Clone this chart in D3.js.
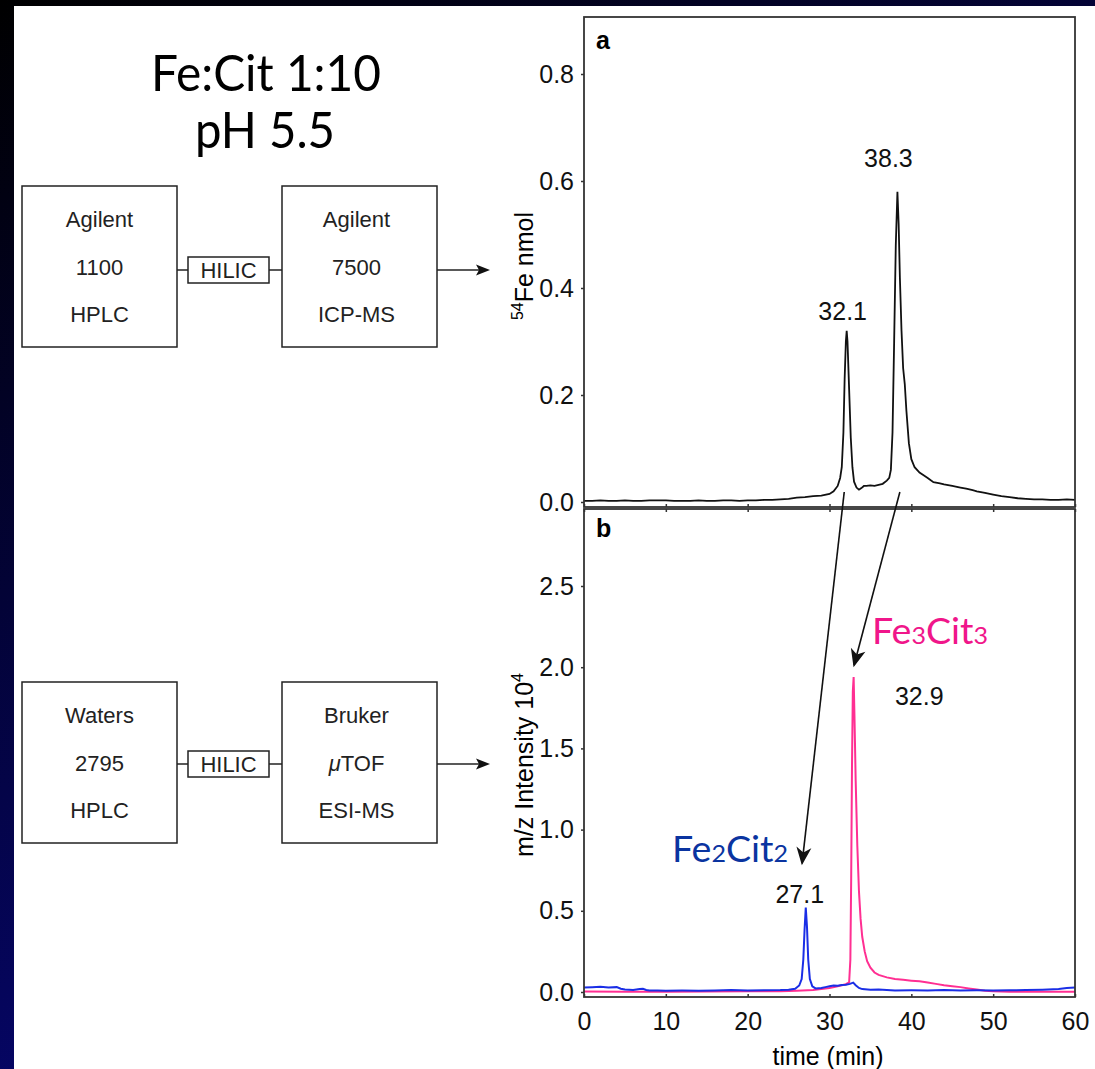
<!DOCTYPE html>
<html>
<head>
<meta charset="utf-8">
<script src="https://cdn.jsdelivr.net/npm/d3@7"></script>
<style>
body { margin: 0; background: #fff; }
</style>
</head>
<body>
<script>
// Values
var timeTicks = [0, 10, 20, 30, 40, 50, 60]
var feTicks = [0, 0.2, 0.4, 0.6, 0.8]
var msTicks = [0, 0.5, 1.0, 1.5, 2.0, 2.5]

// panel a, 54Fe from the ICP-MS, [time, nmol]
var feTrace = [[0,0.002],[1,0.002],[2,0.003],[3,0.002],[4,0.002],[5,0.003],[6,0.002],[7,0.002],[8,0.003],
	[9,0.003],[10,0.003],[11,0.002],[12,0.002],[13,0.002],[14,0.003],[15,0.002],[16,0.002],[17,0.003],
	[18,0.003],[19,0.002],[20,0.003],[21,0.003],[22,0.004],[23,0.004],[24,0.005],[25,0.006],[26,0.008],
	[27,0.009],[28,0.011],[29,0.012],[30,0.015],[30.5,0.02],[31,0.03],[31.3,0.045],[31.5,0.065],[31.7,0.13],
	[31.85,0.23],[32.0,0.3],[32.1,0.32],[32.2,0.3],[32.4,0.21],[32.6,0.12],[32.8,0.065],[33.0,0.038],
	[33.3,0.027],[33.6,0.023],[33.9,0.026],[34.2,0.03],[34.5,0.03],[35,0.031],[35.5,0.03],[36,0.032],
	[36.5,0.034],[37,0.04],[37.3,0.045],[37.5,0.06],[37.7,0.13],[37.9,0.3],[38.1,0.48],[38.3,0.58],
	[38.45,0.52],[38.6,0.42],[38.8,0.32],[39.0,0.25],[39.2,0.22],[39.4,0.17],[39.7,0.11],[40,0.08],
	[40.4,0.065],[41,0.055],[41.5,0.05],[42,0.045],[42.7,0.037],[43.5,0.035],[44,0.033],[45,0.03],
	[46,0.027],[46.7,0.025],[47.5,0.022],[48,0.02],[49,0.017],[50,0.014],[51,0.011],[52,0.009],[53,0.007],
	[54,0.006],[55,0.005],[56,0.005],[57,0.004],[58,0.004],[59,0.005],[60,0.004]]

// panel b, ESI-MS m/z intensity (x10^4), [time, intensity]
var fe2Trace = [[0,0.028],[1,0.03],[2,0.033],[3,0.027],[4,0.03],[4.5,0.02],[5,0.015],[6,0.012],[6.8,0.018],
	[7.2,0.02],[7.6,0.012],[8,0.01],[9,0.009],[10,0.008],[12,0.009],[14,0.008],[16,0.009],[18,0.012],
	[20,0.01],[22,0.011],[24,0.012],[25,0.014],[25.8,0.02],[26.3,0.04],[26.6,0.08],[26.8,0.2],[26.95,0.38],
	[27.1,0.52],[27.25,0.4],[27.4,0.2],[27.6,0.08],[27.9,0.035],[28.3,0.022],[29,0.025],[29.5,0.03],
	[30,0.035],[30.5,0.04],[31,0.038],[31.5,0.043],[32,0.045],[32.5,0.05],[32.9,0.058],[33.2,0.042],
	[33.6,0.025],[34,0.018],[35,0.014],[36,0.015],[38,0.01],[40,0.011],[42,0.01],[44,0.012],[46,0.01],
	[48,0.011],[50,0.01],[52,0.011],[54,0.012],[56,0.014],[58,0.018],[59,0.024],[60,0.028]]

var fe3Trace = [[0,0.003],[5,0.002],[10,0.002],[15,0.003],[20,0.004],[24,0.005],[26,0.008],[28,0.012],
	[29,0.018],[30,0.025],[31,0.035],[32,0.048],[32.4,0.06],[32.55,0.2],[32.65,0.7],[32.75,1.4],[32.85,1.85],
	[32.95,1.94],[33.05,1.7],[33.2,1.3],[33.4,0.9],[33.6,0.62],[33.8,0.45],[34.0,0.34],[34.3,0.25],
	[34.6,0.19],[35,0.15],[35.5,0.12],[36,0.105],[37,0.09],[38,0.08],[39,0.075],[40,0.07],[41,0.066],
	[42,0.058],[43,0.05],[44,0.042],[45,0.036],[46,0.03],[47,0.022],[48,0.015],[49,0.008],[50,0.004],
	[52,0.002],[55,0.002],[58,0.002],[60,0.002]]

// peaks that get a retention time label, [time, height]
var fePeaks = [[32.1, 0.32], [38.3, 0.58]]
var msPeaks = [[27.1, 0.52], [32.9, 1.94]]

// the two arrows linking panel a to panel b: start time in a, end [time, intensity] in b
var linkFrom = [31.8, 38.6]
var linkTo = [[26.65, 0.78], [33.0, 2.0]]

var instrumentsTop = [["Agilent", "1100", "HPLC"], ["Agilent", "7500", "ICP-MS"]]
var instrumentsBottom = [["Waters", "2795", "HPLC"], ["Bruker", "\u03bcTOF", "ESI-MS"]]

var helv = "'Liberation Sans', Arial, sans-serif"
var gill = "Lato, 'Open Sans', sans-serif"
var pink = "#ff2f92"
var blue = "#1a2ee6"

var svg = d3.select("body").append("svg")
	.attr("width", 1095).attr("height", 1069)

// slide background, dark gradient showing at the left and top edge
var defs = svg.append("defs")
var grad = defs.append("linearGradient").attr("id", "slide")
	.attr("x1", 0).attr("y1", 0).attr("x2", 0.55).attr("y2", 1)
grad.append("stop").attr("offset", "0%").attr("stop-color", "#000000")
grad.append("stop").attr("offset", "100%").attr("stop-color", "#07077f")
svg.append("rect").attr("width", 1095).attr("height", 1069).attr("fill", "url(#slide)")
svg.append("rect").attr("x", 14).attr("y", 6).attr("width", 1081).attr("height", 1063).attr("fill", "white")

addArrowMarkers(defs)

// Title
svg.append("text").text("Fe:Cit 1:10")
	.attr("x", 266).attr("y", 91).attr("text-anchor", "middle")
	.attr("font-family", gill).attr("font-size", 50)
	.attr("textLength", 230).attr("lengthAdjust", "spacingAndGlyphs")
svg.append("text").text("pH 5.5")
	.attr("x", 265).attr("y", 148).attr("text-anchor", "middle")
	.attr("font-family", gill).attr("font-size", 50)
	.attr("textLength", 140).attr("lengthAdjust", "spacingAndGlyphs")

// Instrument flow diagrams
addFlow(svg, instrumentsTop, 186, 270)
addFlow(svg, instrumentsBottom, 682, 764)

// Scales, shared x
var x = d3.scaleLinear().domain([0, 60]).range([584, 1075])
var yA = d3.scaleLinear().domain([0, 0.8]).range([502, 74])
var yB = d3.scaleLinear().domain([0, 2.5]).range([992, 586])

var panelA = {top: 17, bottom: 507}
var panelB = {top: 509, bottom: 997}

// --- panel a
var ga = svg.append("g")
ga.append("path").datum(feTrace)
	.attr("d", d3.line().x(function(d) { return x(d[0]) }).y(function(d) { return yA(d[1]) }))
	.attr("fill", "none").attr("stroke", "#111").attr("stroke-width", 1.8)

var axA = ga.append("g").attr("transform", "translate(" + x(0) + ",0)")
	.call(d3.axisLeft(yA).tickValues(feTicks).tickFormat(d3.format(".1f")).tickSizeInner(3).tickSizeOuter(0).tickPadding(7))
styleAxis(axA)
var axAb = ga.append("g").attr("transform", "translate(0," + panelA.bottom + ")")
	.call(d3.axisBottom(x).tickValues(timeTicks).tickFormat("").tickSizeInner(-3).tickSizeOuter(0))
styleAxis(axAb)
addFrame(ga, panelA.top, panelA.bottom)
ga.append("text").text("a").attr("x", 596).attr("y", 49)
	.attr("font-family", helv).attr("font-weight", "bold").attr("font-size", 25)

var labA = ga.append("text").attr("transform", "translate(533," + 266 + ") rotate(-90)")
	.attr("text-anchor", "middle").attr("font-family", helv).attr("font-size", 25)
labA.append("tspan").text("54").attr("font-size", 16).attr("dy", -10)
labA.append("tspan").text("Fe nmol").attr("dy", 10)

// retention times, panel a
var feOffsets = [[-4, -11], [-9, -25]]
for (var i = 0; i < fePeaks.length; i++) {
	addPeakLabel(ga, fePeaks[i][0].toFixed(1), x(fePeaks[i][0]) + feOffsets[i][0], yA(fePeaks[i][1]) + feOffsets[i][1])
}

// --- panel b
var gb = svg.append("g")
var lineB = d3.line().x(function(d) { return x(d[0]) }).y(function(d) { return yB(d[1]) })
gb.append("path").datum(fe3Trace).attr("d", lineB)
	.attr("fill", "none").attr("stroke", pink).attr("stroke-width", 2)
gb.append("path").datum(fe2Trace).attr("d", lineB)
	.attr("fill", "none").attr("stroke", blue).attr("stroke-width", 2)

var axB = gb.append("g").attr("transform", "translate(" + x(0) + ",0)")
	.call(d3.axisLeft(yB).tickValues(msTicks).tickFormat(d3.format(".1f")).tickSizeInner(3).tickSizeOuter(0).tickPadding(7))
styleAxis(axB)
var axBb = gb.append("g").attr("transform", "translate(0," + panelB.bottom + ")")
	.call(d3.axisBottom(x).tickValues(timeTicks).tickFormat(d3.format("d")).tickSizeInner(-3).tickSizeOuter(0).tickPadding(15))
styleAxis(axBb)
var axBt = gb.append("g").attr("transform", "translate(0," + panelB.top + ")")
	.call(d3.axisTop(x).tickValues(timeTicks).tickFormat("").tickSizeInner(-3).tickSizeOuter(0))
styleAxis(axBt)
addFrame(gb, panelB.top, panelB.bottom)
gb.append("text").text("b").attr("x", 596).attr("y", 537)
	.attr("font-family", helv).attr("font-weight", "bold").attr("font-size", 25)

var labB = gb.append("text").attr("transform", "translate(533,765) rotate(-90)")
	.attr("text-anchor", "middle").attr("font-family", helv).attr("font-size", 25)
labB.append("tspan").text("m/z Intensity 10")
labB.append("tspan").text("4").attr("font-size", 16).attr("dy", -10)

gb.append("text").text("time (min)").attr("x", 828).attr("y", 1065)
	.attr("text-anchor", "middle").attr("font-family", helv).attr("font-size", 25)

var msOffsets = [[-6, -5], [66, 28]]
for (var i = 0; i < msPeaks.length; i++) {
	addPeakLabel(gb, msPeaks[i][0].toFixed(1), x(msPeaks[i][0]) + msOffsets[i][0], yB(msPeaks[i][1]) + msOffsets[i][1])
}

// compound names, Gill Sans-ish with small digits
addCompound(svg, ["Fe", "2", "Cit", "2"], 672, 862, "#0a34a0", 116)
addCompound(svg, ["Fe", "3", "Cit", "3"], 872, 644, "#f0168a", 116)

// arrows linking the ICP-MS peaks to the ESI-MS peaks
for (var i = 0; i < linkFrom.length; i++) {
	svg.append("line")
		.attr("x1", x(linkFrom[i])).attr("y1", 492)
		.attr("x2", x(linkTo[i][0])).attr("y2", yB(linkTo[i][1]) - 2)
		.attr("stroke", "#111").attr("stroke-width", 1.6)
		.attr("marker-end", "url(#head)")
}


function addFlow(node, boxes, top, midY) {
	var h = 161
	var lefts = [22, 282]
	var w = 155
	for (var b = 0; b < boxes.length; b++) {
		node.append("rect").attr("x", lefts[b]).attr("y", top).attr("width", w).attr("height", h)
			.attr("fill", "white").attr("stroke", "#222").attr("stroke-width", 1.5)
		var cx = lefts[b] + w / 2 - (b == 1 ? 3 : 0)
		for (var l = 0; l < boxes[b].length; l++) {
			var t = node.append("text").attr("x", cx).attr("y", top + 41 + l * 47.5)
				.attr("text-anchor", "middle").attr("font-family", helv).attr("font-size", 22).attr("fill", "#222")
			var s = boxes[b][l]
			if (s.charAt(0) == "\u03bc") {
				t.append("tspan").text("\u03bc").attr("font-style", "italic")
				t.append("tspan").text(s.slice(1))
			} else {
				t.text(s)
			}
		}
	}
	// the column in between
	node.append("line").attr("x1", 177).attr("x2", 188).attr("y1", midY).attr("y2", midY).attr("stroke", "#222").attr("stroke-width", 1.5)
	node.append("line").attr("x1", 269).attr("x2", 282).attr("y1", midY).attr("y2", midY).attr("stroke", "#222").attr("stroke-width", 1.5)
	node.append("rect").attr("x", 188).attr("y", midY - 13).attr("width", 81).attr("height", 26)
		.attr("fill", "white").attr("stroke", "#222").attr("stroke-width", 1.5)
	node.append("text").text("HILIC").attr("x", 228.5).attr("y", midY + 8)
		.attr("text-anchor", "middle").attr("font-family", helv).attr("font-size", 22).attr("fill", "#222")
	// out to the chart
	node.append("line").attr("x1", 437).attr("x2", 487).attr("y1", midY).attr("y2", midY)
		.attr("stroke", "#222").attr("stroke-width", 1.5).attr("marker-end", "url(#smallhead)")
}

function addFrame(node, top, bottom) {
	node.append("rect").attr("x", x(0)).attr("y", top)
		.attr("width", x(60) - x(0)).attr("height", bottom - top)
		.attr("fill", "none").attr("stroke", "#333").attr("stroke-width", 1.8)
}

function styleAxis(ax) {
	ax.select(".domain").remove()
	ax.selectAll("line").attr("stroke", "#333").attr("stroke-width", 1.5)
	ax.selectAll("text").attr("font-family", helv).attr("font-size", 25).attr("fill", "#111")
}

function addPeakLabel(node, text, cx, baseline) {
	node.append("text").text(text).attr("x", cx).attr("y", baseline)
		.attr("text-anchor", "middle").attr("font-family", helv).attr("font-size", 25).attr("fill", "#111")
}

function addCompound(node, parts, x0, baseline, color, len) {
	var t = node.append("text").attr("x", x0).attr("y", baseline)
		.attr("font-family", gill).attr("font-size", 36).attr("fill", color)
		.attr("textLength", len).attr("lengthAdjust", "spacingAndGlyphs")
	for (var p = 0; p < parts.length; p++) {
		var sp = t.append("tspan").text(parts[p])
		if (p % 2 == 1) sp.attr("font-size", 24)
	}
}

function addArrowMarkers(defs) {
	defs.append("marker").attr("id", "head")
		.attr("markerUnits", "userSpaceOnUse").attr("markerWidth", 24).attr("markerHeight", 24)
		.attr("viewBox", "-20 -10 24 20").attr("refX", 0).attr("refY", 0).attr("orient", "auto")
		.append("path").attr("d", "M2,0 L-16,-7.5 L-11,0 L-16,7.5 Z").attr("fill", "#111")
	defs.append("marker").attr("id", "smallhead")
		.attr("markerUnits", "userSpaceOnUse").attr("markerWidth", 20).attr("markerHeight", 20)
		.attr("viewBox", "-16 -8 20 16").attr("refX", 0).attr("refY", 0).attr("orient", "auto")
		.append("path").attr("d", "M3,0 L-11,-5.5 L-8,0 L-11,5.5 Z").attr("fill", "#111")
}
</script>
</body>
</html>
